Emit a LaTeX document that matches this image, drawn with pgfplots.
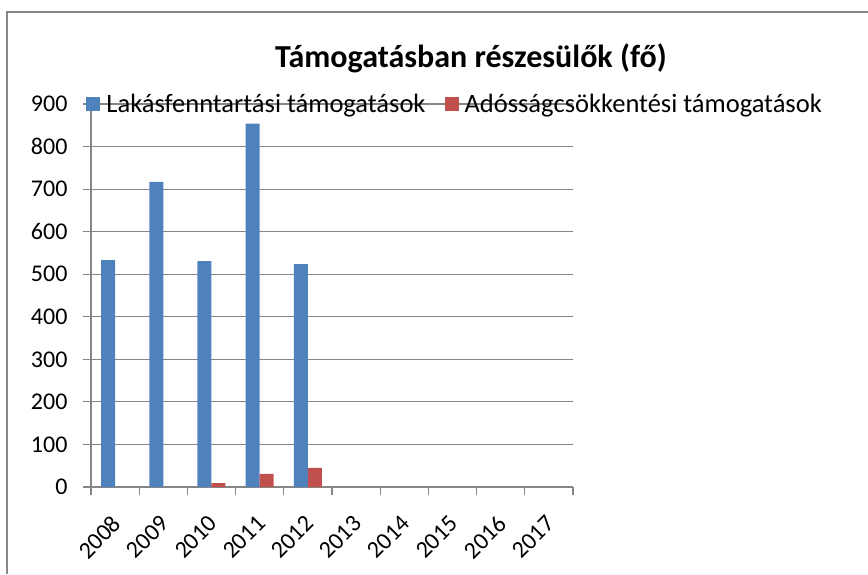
\documentclass[border=0pt]{standalone}
\usepackage{fontspec}
\setmainfont{Carlito}
\usepackage{pgfplots}
\pgfplotsset{compat=1.18}
\definecolor{barblue}{HTML}{4F81BD}
\definecolor{barred}{HTML}{C0504D}
\definecolor{axisgray}{HTML}{868686}

\begin{document}
\begin{tikzpicture}[x=1pt,y=1pt]
\useasboundingbox (0,0) rectangle (868,574);
\draw[axisgray, line width=1.5pt] (7,0) -- (7,562) -- (868,562);
\begin{axis}[
  at={(91pt,87pt)}, anchor=south west,
  scale only axis, width=482pt, height=383pt,
  ybar=0pt, bar width=14pt,
  xmin=-0.5, xmax=9.5, ymin=0, ymax=900,
  axis lines*=left,
  axis line style={axisgray, line width=1.2pt},
  ymajorgrids, grid style={axisgray, line width=1.2pt},
  xtick={-0.5,0.5,...,9.5},
  xticklabels={},
  extra x ticks={0,...,9},
  extra x tick labels={2008,2009,2010,2011,2012,2013,2014,2015,2016,2017},
  extra x tick style={major tick length=0pt,
    tick label style={rotate=45, anchor=north east, xshift=-18.6pt, yshift=-12.8pt}},
  ytick={0,100,...,900},
  yticklabel style={xshift=-12pt},
  tick align=outside,
  major tick length=8pt,
  tick style={axisgray, line width=1.2pt},
  tick label style={font=\fontsize{24}{29}\selectfont, text=black},
  /pgf/number format/assume math mode=true,
  legend style={at={(-0.016,1)}, anchor=west, draw=none, fill=none,
    legend columns=2, font=\fontsize{26.5}{31}\selectfont,
    /tikz/every even column/.append style={column sep=17pt}},
]
\addplot[fill=barblue, draw=none,
  legend image code/.code={\fill[barblue] (0pt,-7pt) rectangle (14pt,7pt); \path (18pt,0pt);}]
  coordinates {(0,533) (1,717) (2,531) (3,854) (4,524)};
\addplot[fill=barred, draw=none,
  legend image code/.code={\fill[barred] (0pt,-7pt) rectangle (14pt,7pt); \path (18pt,0pt);}]
  coordinates {(2,9) (3,31) (4,45)};
\legend{Lakásfenntartási támogatások, Adósságcsökkentési támogatások}
\end{axis}
\node[font=\bfseries\fontsize{32}{38}\selectfont] at (471,516) {Támogatásban részesülők (fő)};
\end{tikzpicture}
\end{document}
